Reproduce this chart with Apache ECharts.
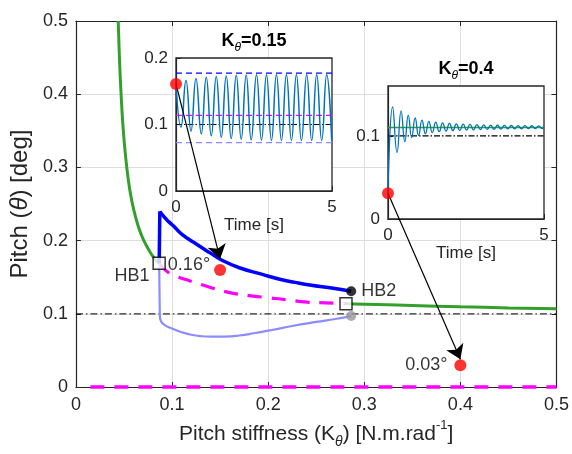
<!DOCTYPE html>
<html><head><meta charset="utf-8">
<script src="https://cdn.jsdelivr.net/npm/echarts@6/dist/echarts.min.js"></script>
<style>html,body{margin:0;padding:0;background:#fff}#c{width:572px;height:454px}</style>
</head><body><div id="c"></div>
<script>
// ---------- data ----------
const mainXTicks = [0, 0.1, 0.2, 0.3, 0.4, 0.5];
const mainYTicks = [0, 0.1, 0.2, 0.3, 0.4, 0.5];
const inset1YTicks = [0, 0.1, 0.2];
const inset2YTicks = [0, 0.1];
const insetTTicks = [0, 5];

// stable equilibrium (green)
const greenLeftX = [0.044, 0.045, 0.046, 0.048, 0.050, 0.053, 0.056, 0.060, 0.065, 0.070, 0.076, 0.081, 0.0866];
const greenLeftY = [0.5, 0.46, 0.427, 0.376, 0.339, 0.299, 0.270, 0.243, 0.219, 0.202, 0.187, 0.177, 0.169];
const greenRightX = [0.281, 0.3, 0.35, 0.4, 0.45, 0.5];
const greenRightY = [0.114, 0.1133, 0.1115, 0.1097, 0.1082, 0.107];

// Hopf points
const hb1 = [0.0866, 0.169];
const hb2 = [0.281, 0.114];
const hbLabels = ['HB1', 'HB2'];

// limit cycle maximum (blue), starting at its peak
const lcMaxX = [0.0873, 0.092, 0.0965, 0.1016, 0.11, 0.1256, 0.14, 0.151, 0.17, 0.194, 0.21, 0.228, 0.245, 0.2625, 0.2864];
const lcMaxY = [0.24, 0.232, 0.226, 0.22, 0.209, 0.195, 0.183, 0.174, 0.163, 0.154, 0.148, 0.143, 0.139, 0.136, 0.131];
// limit cycle minimum (light blue), starting at its corner
const lcMinX = [0.0873, 0.0885, 0.092, 0.1, 0.11, 0.12, 0.13, 0.14, 0.155, 0.17, 0.185, 0.204, 0.225, 0.25, 0.27, 0.2864];
const lcMinY = [0.097, 0.090, 0.085, 0.080, 0.075, 0.0715, 0.0695, 0.0688, 0.069, 0.0705, 0.0735, 0.078, 0.0835, 0.089, 0.093, 0.097];
const lcEndMax = [0.2864, 0.131];
const lcEndMin = [0.2864, 0.097];

// unstable equilibrium (magenta dashed)
const unstX = [0.0866, 0.0948, 0.105, 0.1188, 0.14, 0.16, 0.18, 0.2, 0.2146, 0.241, 0.26, 0.281];
const unstY = [0.169, 0.158, 0.151, 0.145, 0.136, 0.129, 0.125, 0.122, 0.12, 0.116, 0.115, 0.114];
const zeroBranchX = [0.015, 0.5];
const zeroBranchY = [0, 0];
const refLevel = 0.1;

// initial conditions shown in main plot
const icPoints = [[0.15, 0.16], [0.4, 0.03]];
const icLabels = ['0.16°', '0.03°'];
const arrowEnds = [[0.15, 0.175], [0.4, 0.038]];

// inset 1: K = 0.15 time response (extrema)
const inset1Title = ['K', 'θ', '=0.15'];
const inset1T = [0, 0.16, 0.32, 0.48, 0.64, 0.81, 0.97, 1.13, 1.29, 1.45, 1.61, 1.77, 1.93, 2.09, 2.25, 2.41, 2.58, 2.74, 2.90, 3.06, 3.22, 3.38, 3.54, 3.70, 3.86, 4.02, 4.19, 4.35, 4.51, 4.67, 4.83, 4.99];
const inset1V = [0.161, 0.096, 0.166, 0.090, 0.169, 0.086, 0.171, 0.083, 0.172, 0.081, 0.173, 0.079, 0.174, 0.078, 0.1745, 0.077, 0.175, 0.0765, 0.175, 0.076, 0.175, 0.076, 0.175, 0.076, 0.175, 0.076, 0.175, 0.076, 0.175, 0.076, 0.175, 0.076];
const inset1Levels = { max: 0.1774, unstable: 0.1138, ref: 0.1, min: 0.0728 };
const inset1Start = [0, 0.161];

// inset 2: K = 0.4 time response
const inset2Title = ['K', 'θ', '=0.4'];
const inset2T = [0, 0.15, 0.29, 0.42, 0.54, 0.65, 0.76, 0.87, 0.98, 1.09, 1.20, 1.31, 1.42, 1.53, 1.64, 1.75, 1.86, 1.97, 2.08, 2.19, 2.30, 2.41, 2.52, 2.63, 2.74, 2.85, 2.96, 3.07, 3.18, 3.29, 3.40, 3.51, 3.62, 3.73, 3.84, 3.95, 4.06, 4.17, 4.28, 4.39, 4.50, 4.61, 4.72, 4.83, 4.94, 5.0];
const inset2V = [0.031, 0.135, 0.080, 0.130, 0.093, 0.125, 0.098, 0.1215, 0.1005, 0.1190, 0.1025, 0.1175, 0.1040, 0.1165, 0.1050, 0.1157, 0.1057, 0.1150, 0.1062, 0.1145, 0.1066, 0.1141, 0.1070, 0.1138, 0.1073, 0.1135, 0.1076, 0.1132, 0.1078, 0.1130, 0.1080, 0.1128, 0.1082, 0.1127, 0.1084, 0.1125, 0.1085, 0.1124, 0.1086, 0.1123, 0.1087, 0.1122, 0.1088, 0.1121, 0.1089, 0.1105];
const inset2Levels = { stable: 0.11, ref: 0.1 };
const inset2Start = [0, 0.031];

// ---------- chart ----------
const FONT = '"Liberation Sans", Arial, Helvetica, sans-serif';
const AX = '#262626';
const zip = (xs, ys) => xs.map((x, i) => [x, ys[i]]);
const hline = (v, x0, x1) => [[x0, v], [x1, v]];

const chart = echarts.init(document.getElementById('c'), null, { renderer: 'canvas' });

const series = [];
function add(s) { series.push(Object.assign({ animation: false }, s)); return series.length - 1; }
const M = { xAxisIndex: 0, yAxisIndex: 0 };
const I1 = { xAxisIndex: 2, yAxisIndex: 2 };
const I2 = { xAxisIndex: 3, yAxisIndex: 3 };
const lineBase = { type: 'line', showSymbol: false, symbol: 'none', silent: true };

const GREEN = '#33a02c';
const idxMain = add(Object.assign({}, lineBase, M, { data: zip(greenLeftX, greenLeftY), smooth: true, lineStyle: { color: GREEN, width: 3 } }));
add(Object.assign({}, lineBase, M, { data: zip(greenRightX, greenRightY), smooth: true, lineStyle: { color: GREEN, width: 3 } }));
add(Object.assign({}, lineBase, M, { data: hline(refLevel, 0, 0.5), lineStyle: { color: '#000', width: 1, type: [7, 3, 1.5, 3] } }));
add(Object.assign({}, lineBase, M, { data: zip(zeroBranchX, zeroBranchY), clip: false, lineStyle: { color: '#ff00ff', width: 3.5, type: [14, 10] } }));
add(Object.assign({}, lineBase, M, { data: zip(unstX, unstY), smooth: true, lineStyle: { color: '#ff00ff', width: 3.2, type: [14, 10] } }));
add(Object.assign({}, lineBase, M, { data: [hb1, [lcMinX[0], lcMinY[0]]], lineStyle: { color: '#8c8cff', width: 2.2 } }));
add(Object.assign({}, lineBase, M, { data: zip(lcMinX, lcMinY), smooth: true, lineStyle: { color: '#8c8cff', width: 2.2 } }));
add(Object.assign({}, lineBase, M, { data: [hb1, [lcMaxX[0], lcMaxY[0]]], lineStyle: { color: '#0000ff', width: 3.5 } }));
add(Object.assign({}, lineBase, M, { data: zip(lcMaxX, lcMaxY), smooth: true, lineStyle: { color: '#0000ff', width: 3.5, join: 'round' } }));

add(Object.assign({}, M, {
  id: 'arrows', type: 'lines', coordinateSystem: 'cartesian2d', silent: true, z: 6,
  symbol: ['none', 'arrow'], symbolSize: 14,
  lineStyle: { color: '#000', width: 1.2, opacity: 1, curveness: 0 },
  data: []
}));

add(Object.assign({ type: 'scatter', z: 5, silent: true }, M, { data: [lcEndMin], symbol: 'circle', symbolSize: 10, itemStyle: { color: '#999999' } }));
add(Object.assign({ type: 'scatter', z: 5, silent: true }, M, {
  data: [lcEndMax], symbol: 'circle', symbolSize: 10, itemStyle: { color: '#000' },
  label: { show: true, formatter: hbLabels[1], position: 'right', distance: 5, fontSize: 18, color: '#000', fontFamily: FONT }
}));
add(Object.assign({ type: 'scatter', z: 7, silent: true }, M, {
  data: [hb1], symbol: 'rect', symbolSize: 12, itemStyle: { color: '#fff', borderColor: '#000', borderWidth: 1.5 },
  label: { show: true, formatter: hbLabels[0], position: 'left', distance: 3, offset: [0, 13], fontSize: 18, color: '#000', fontFamily: FONT }
}));
add(Object.assign({ type: 'scatter', z: 7, silent: true }, M, {
  data: [hb2], symbol: 'rect', symbolSize: 12, itemStyle: { color: '#fff', borderColor: '#000', borderWidth: 1.5 }
}));
add(Object.assign({ type: 'scatter', z: 5, silent: true }, M, {
  data: [icPoints[0]], symbol: 'circle', symbolSize: 12, itemStyle: { color: '#ff0000' },
  label: { show: true, formatter: icLabels[0], position: 'left', distance: 4, offset: [0, -5], fontSize: 18, color: '#000', fontFamily: FONT }
}));
add(Object.assign({ type: 'scatter', z: 5, silent: true }, M, {
  data: [icPoints[1]], symbol: 'circle', symbolSize: 12, itemStyle: { color: '#ff0000' },
  label: { show: true, formatter: icLabels[1], position: 'left', distance: 7, fontSize: 18, color: '#000', fontFamily: FONT }
}));

// inset 1
add(Object.assign({}, lineBase, I1, { data: hline(inset1Levels.max, 0, 5), lineStyle: { color: '#0000ff', width: 1.2, type: [6, 4] } }));
add(Object.assign({}, lineBase, I1, { data: hline(inset1Levels.unstable, 0, 5), lineStyle: { color: '#ff00ff', width: 1.2, type: [6, 4] } }));
add(Object.assign({}, lineBase, I1, { data: hline(inset1Levels.ref, 0, 5), lineStyle: { color: '#000', width: 1.2, type: [6, 2, 1.5, 2] } }));
add(Object.assign({}, lineBase, I1, { data: hline(inset1Levels.min, 0, 5), lineStyle: { color: '#8c8cff', width: 1.2, type: [6, 4] } }));
const idxI1 = add(Object.assign({}, lineBase, I1, { data: zip(inset1T, inset1V), smooth: true, lineStyle: { color: '#0072bd', width: 1.5 } }));
add(Object.assign({ type: 'scatter', z: 8, silent: true, clip: false }, I1, { data: [inset1Start], symbolSize: 12, itemStyle: { color: '#ff0000' } }));

// inset 2
add(Object.assign({}, lineBase, I2, { data: hline(inset2Levels.ref, 0, 5), lineStyle: { color: '#000', width: 1.2, type: [6, 2, 1.5, 2] } }));
add(Object.assign({}, lineBase, I2, { data: hline(inset2Levels.stable, 0, 5), lineStyle: { color: GREEN, width: 1.5 } }));
const idxI2 = add(Object.assign({}, lineBase, I2, { data: zip(inset2T, inset2V), smooth: true, lineStyle: { color: '#0072bd', width: 1.3 } }));
add(Object.assign({ type: 'scatter', z: 8, silent: true, clip: false }, I2, { data: [inset2Start], symbolSize: 12, itemStyle: { color: '#ff0000' } }));

const axisCommon = {
  type: 'value',
  axisLine: { show: true, onZero: false, lineStyle: { color: AX, width: 1.2 } },
  axisTick: { show: true, inside: true, length: 5, lineStyle: { color: AX } },
  splitLine: { show: false },
};
const mainLabel = { fontSize: 18, color: AX, fontFamily: FONT };
const insetLabel = { fontSize: 17, color: AX, fontFamily: FONT, margin: 8 };
const rng = (t) => ({ min: t[0], max: t[t.length - 1], interval: t[1] - t[0] });
const titleRich = {
  b: { fontSize: 18, fontWeight: 'bold', fill: '#000', lineHeight: 26, fontFamily: FONT },
  s: { fontSize: 12, fontStyle: 'italic', fill: '#000', verticalAlign: 'bottom', lineHeight: 8, fontFamily: FONT }
};

const option = {
  animation: false,
  backgroundColor: '#fff',
  textStyle: { fontFamily: FONT },
  grid: [
    { left: 71, top: 21, width: 487, height: 367, show: false },
    { left: 176, top: 58, width: 156, height: 133, show: true, backgroundColor: '#fff', borderColor: AX, borderWidth: 1.3, z: 1 },
    { left: 388, top: 86, width: 156, height: 133, show: true, backgroundColor: '#fff', borderColor: AX, borderWidth: 1.3, z: 1 }
  ],
  xAxis: [
    Object.assign({}, axisCommon, rng(mainXTicks), {
      gridIndex: 0, position: 'bottom',
      splitLine: { show: true, lineStyle: { color: '#dedede', width: 1 } },
      axisLabel: Object.assign({ margin: 9 }, mainLabel),
      name: '{n|Pitch stiffness (K}{s|θ}{n|) [N.m.rad}{p|-1}{n|]}',
      nameLocation: 'middle', nameGap: 29,
      nameTextStyle: {
        color: AX, fontSize: 21, fontFamily: FONT,
        rich: {
          n: { fontSize: 21, color: AX, lineHeight: 30, fontFamily: FONT },
          s: { fontSize: 14, color: AX, fontStyle: 'italic', verticalAlign: 'bottom', lineHeight: 8, fontFamily: FONT },
          p: { fontSize: 13, color: AX, verticalAlign: 'top', lineHeight: 17, fontFamily: FONT }
        }
      }
    }),
    Object.assign({}, axisCommon, rng(mainXTicks), { gridIndex: 0, position: 'top', axisLabel: { show: false } }),
    Object.assign({}, axisCommon, rng(insetTTicks), {
      gridIndex: 1, z: 3, axisLabel: insetLabel,
      name: 'Time [s]', nameLocation: 'middle', nameGap: 5,
      nameTextStyle: { fontSize: 17, color: AX, fontFamily: FONT }
    }),
    Object.assign({}, axisCommon, rng(insetTTicks), {
      gridIndex: 2, z: 3, axisLabel: insetLabel,
      name: 'Time [s]', nameLocation: 'middle', nameGap: 5,
      nameTextStyle: { fontSize: 17, color: AX, fontFamily: FONT }
    })
  ],
  yAxis: [
    Object.assign({}, axisCommon, rng(mainYTicks), {
      gridIndex: 0, position: 'left',
      splitLine: { show: true, lineStyle: { color: '#dedede', width: 1 } },
      axisLabel: Object.assign({ margin: 8 }, mainLabel),
      name: '{n|Pitch (}{i|θ}{n|) [deg]}',
      nameLocation: 'middle', nameGap: 37,
      nameTextStyle: {
        color: AX, fontSize: 24, fontFamily: FONT,
        rich: {
          n: { fontSize: 24, color: AX, fontFamily: FONT },
          i: { fontSize: 24, color: AX, fontStyle: 'italic', fontFamily: FONT }
        }
      }
    }),
    Object.assign({}, axisCommon, rng(mainYTicks), { gridIndex: 0, position: 'right', axisLabel: { show: false } }),
    Object.assign({}, axisCommon, rng(inset1YTicks), { gridIndex: 1, z: 3, axisLabel: insetLabel }),
    Object.assign({}, axisCommon, { gridIndex: 2, z: 3, min: inset2YTicks[0], max: 0.16, interval: inset2YTicks[1] - inset2YTicks[0], axisLabel: Object.assign({ showMaxLabel: false }, insetLabel) })
  ],
  graphic: [
    { type: 'text', x: 254, y: 41, z: 10, style: {
      text: '{b|' + inset1Title[0] + '}{s|' + inset1Title[1] + '}{b|' + inset1Title[2] + '}',
      align: 'center', verticalAlign: 'middle', rich: titleRich } },
    { type: 'text', x: 466, y: 69, z: 10, style: {
      text: '{b|' + inset2Title[0] + '}{s|' + inset2Title[1] + '}{b|' + inset2Title[2] + '}',
      align: 'center', verticalAlign: 'middle', rich: titleRich } }
  ],
  series: series
};

chart.setOption(option);

// arrows: start at inset initial-condition dots, expressed in the main axes
const p1 = chart.convertToPixel({ seriesIndex: idxI1 }, inset1Start);
const p2 = chart.convertToPixel({ seriesIndex: idxI2 }, inset2Start);
const s1 = chart.convertFromPixel({ seriesIndex: idxMain }, p1);
const s2 = chart.convertFromPixel({ seriesIndex: idxMain }, p2);
chart.setOption({ series: [{ id: 'arrows', data: [{ coords: [s1, arrowEnds[0]] }, { coords: [s2, arrowEnds[1]] }] }] });
</script>
</body></html>
